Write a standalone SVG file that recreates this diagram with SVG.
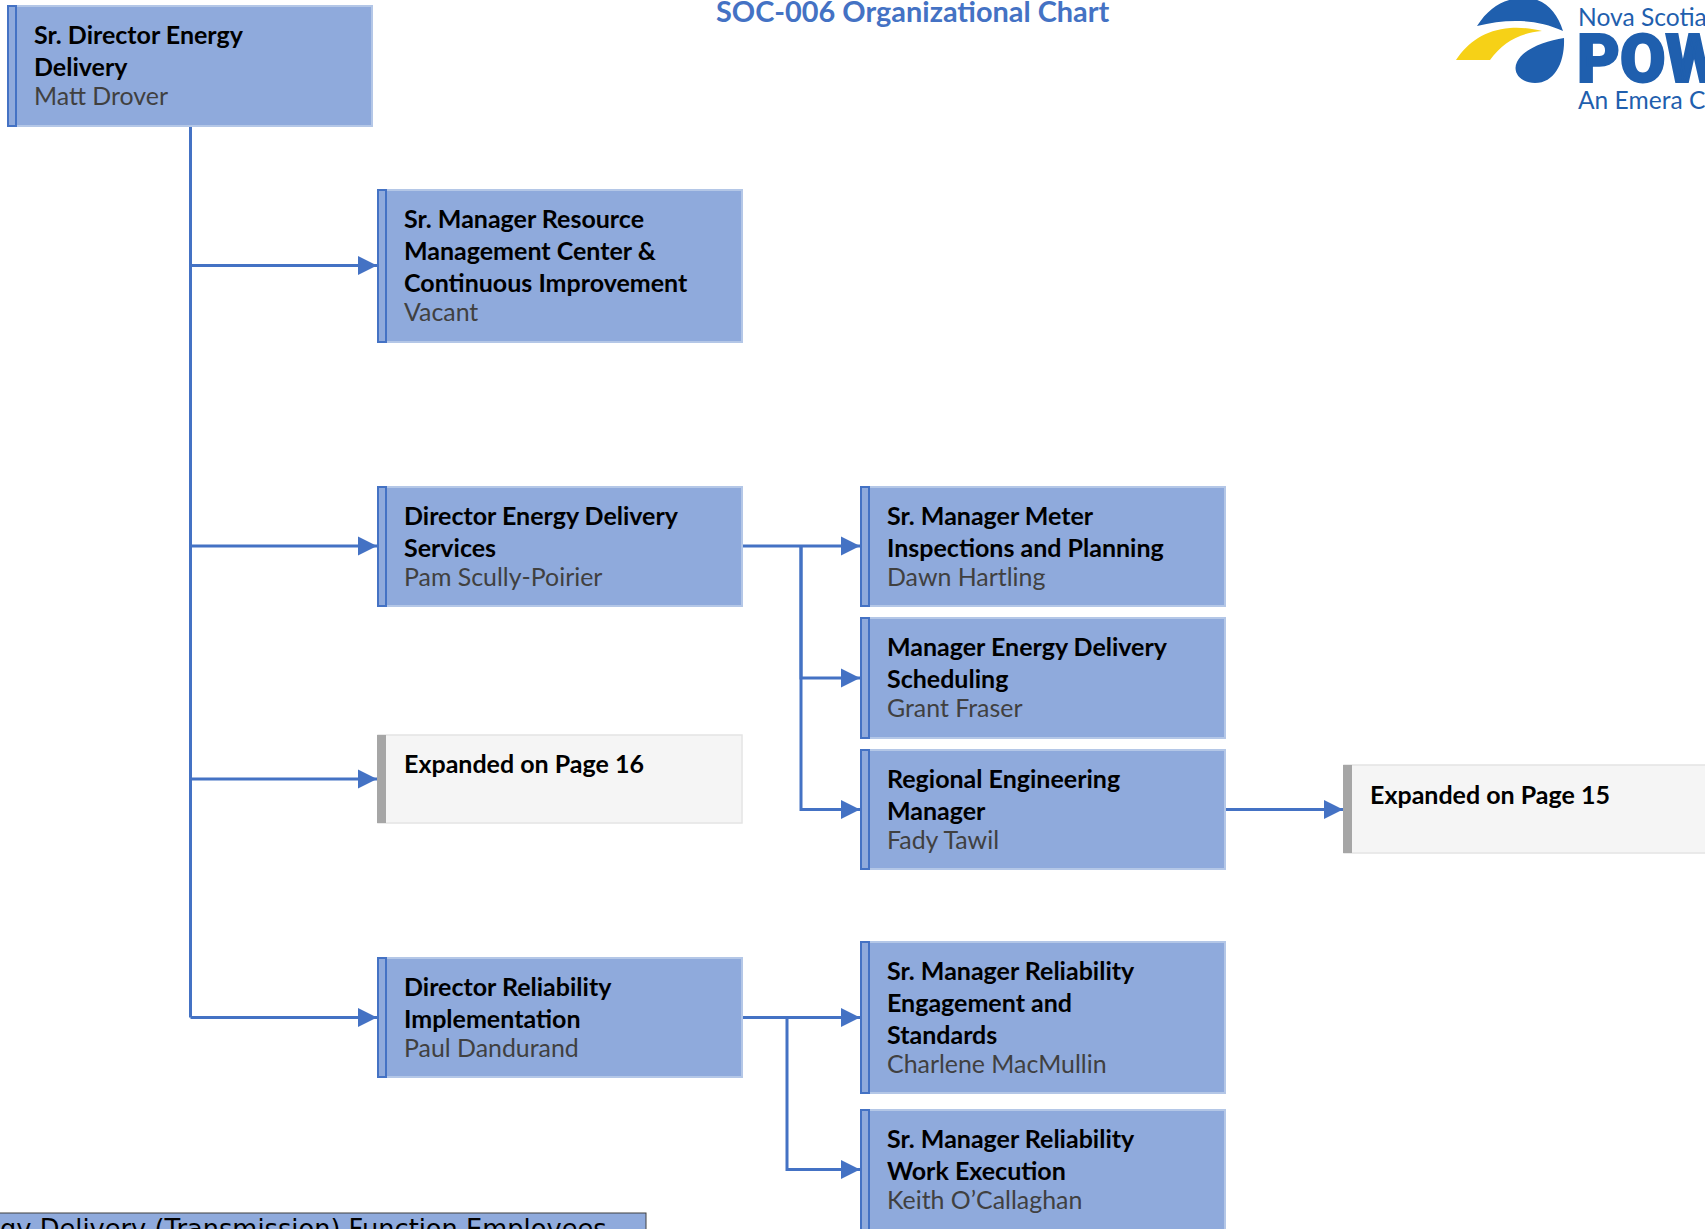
<svg xmlns="http://www.w3.org/2000/svg" width="1705" height="1229" viewBox="0 0 1705 1229">
<style>
text{font-family:"Lato","Open Sans","Liberation Sans",sans-serif}
.box{fill:#8faadc;stroke:#b4c7e7;stroke-width:2}
.strip{fill:#8faadc;stroke:#4472c4;stroke-width:2}
.gbox{fill:#f5f5f5;stroke:#e4e4e4;stroke-width:1.5}
.gstrip{fill:#a6a6a6}
.t{font-size:25px;font-weight:700;fill:#000}
.n{font-size:24.900px;fill:#404040}
.c{fill:none;stroke:#4472c4;stroke-width:3}
.title{font-size:28.900px;font-weight:700;fill:#4472c4}
.logo{fill:#1f5fae}
</style>
<defs><marker id="a" markerUnits="userSpaceOnUse" markerWidth="19" markerHeight="20" refX="19" refY="10" orient="auto"><path d="M0 0.500L19 10L0 19.500Z" fill="#4472c4"/></marker></defs>
<g id="connectors">
<path class="c" d="M190.500 126V1017.500"/>
<path class="c" marker-end="url(#a)" d="M190.500 265.500H377"/>
<path class="c" marker-end="url(#a)" d="M190.500 546H377"/>
<path class="c" marker-end="url(#a)" d="M190.500 779H377"/>
<path class="c" marker-end="url(#a)" d="M190.500 1017.500H377"/>
<path class="c" marker-end="url(#a)" d="M743 546H860"/>
<path class="c" marker-end="url(#a)" d="M801 546V678H860"/>
<path class="c" marker-end="url(#a)" d="M801 546V809.500H860"/>
<path class="c" marker-end="url(#a)" d="M743 1017.500H860"/>
<path class="c" marker-end="url(#a)" d="M787 1017.500V1169.500H860"/>
<path class="c" marker-end="url(#a)" d="M1226 809.500H1343"/>
</g>
<text class="title" x="716" y="22">SOC-006 Organizational Chart</text>
<g id="logo">
<path class="logo" d="M1477 26C1490 6 1505 -2 1525 -2C1545 -2 1557 12 1563 31C1535 18 1505 19 1477 26Z"/>
<path d="M1456 60C1468 42 1485 30 1510 28C1522 27 1533 29 1542 31C1520 33 1503 42 1490 60Z" fill="#f6d117"/>
<path class="logo" d="M1564 38C1565 62 1555 83 1535 83C1520 83 1512 72 1517 62C1523 49 1545 41 1564 38Z"/>
<text x="1578" y="26" font-size="24.600" fill="#1f5fae">Nova Scotia</text>
<text x="1577" y="82" font-size="66" font-weight="900" fill="#1f5fae" stroke="#1f5fae" stroke-width="2" style="font-family:Roboto,Lato,sans-serif">POW</text>
<text x="1578" y="109" font-size="24.600" fill="#1f5fae">An Emera C</text>
</g>
<g id="n1"><rect class="box" x="8" y="6" width="364" height="120"/><rect class="strip" x="8" y="6" width="8" height="120"/><text class="t" x="34" y="44">Sr. Director Energy</text><text class="t" x="34" y="76">Delivery</text><text class="n" x="34" y="105">Matt Drover</text></g>
<g id="n2"><rect class="box" x="378" y="190" width="364" height="152"/><rect class="strip" x="378" y="190" width="8" height="152"/><text class="t" x="404" y="228">Sr. Manager Resource</text><text class="t" x="404" y="260">Management Center &amp;</text><text class="t" x="404" y="292">Continuous Improvement</text><text class="n" x="404" y="321">Vacant</text></g>
<g id="n3"><rect class="box" x="378" y="487" width="364" height="119"/><rect class="strip" x="378" y="487" width="8" height="119"/><text class="t" x="404" y="525">Director Energy Delivery</text><text class="t" x="404" y="557">Services</text><text class="n" x="404" y="586">Pam Scully-Poirier</text></g>
<g id="n4"><rect class="gbox" x="378" y="735" width="364" height="88"/><rect class="gstrip" x="377" y="735" width="9" height="88"/><text class="t" x="404" y="773">Expanded on Page 16</text></g>
<g id="n5"><rect class="box" x="378" y="958" width="364" height="119"/><rect class="strip" x="378" y="958" width="8" height="119"/><text class="t" x="404" y="996">Director Reliability</text><text class="t" x="404" y="1028">Implementation</text><text class="n" x="404" y="1057">Paul Dandurand</text></g>
<g id="n6"><rect class="box" x="861" y="487" width="364" height="119"/><rect class="strip" x="861" y="487" width="8" height="119"/><text class="t" x="887" y="525">Sr. Manager Meter</text><text class="t" x="887" y="557">Inspections and Planning</text><text class="n" x="887" y="586">Dawn Hartling</text></g>
<g id="n7"><rect class="box" x="861" y="618" width="364" height="120"/><rect class="strip" x="861" y="618" width="8" height="120"/><text class="t" x="887" y="656">Manager Energy Delivery</text><text class="t" x="887" y="688">Scheduling</text><text class="n" x="887" y="717">Grant Fraser</text></g>
<g id="n8"><rect class="box" x="861" y="750" width="364" height="119"/><rect class="strip" x="861" y="750" width="8" height="119"/><text class="t" x="887" y="788">Regional Engineering</text><text class="t" x="887" y="820">Manager</text><text class="n" x="887" y="849">Fady Tawil</text></g>
<g id="n9"><rect class="gbox" x="1344" y="765" width="370" height="88"/><rect class="gstrip" x="1343" y="765" width="9" height="88"/><text class="t" x="1370" y="804">Expanded on Page 15</text></g>
<g id="n10"><rect class="box" x="861" y="942" width="364" height="151"/><rect class="strip" x="861" y="942" width="8" height="151"/><text class="t" x="887" y="980">Sr. Manager Reliability</text><text class="t" x="887" y="1012">Engagement and</text><text class="t" x="887" y="1044">Standards</text><text class="n" x="887" y="1073">Charlene MacMullin</text></g>
<g id="n11"><rect class="box" x="861" y="1110" width="364" height="130"/><rect class="strip" x="861" y="1110" width="8" height="130"/><text class="t" x="887" y="1148">Sr. Manager Reliability</text><text class="t" x="887" y="1180">Work Execution</text><text class="n" x="887" y="1209">Keith O’Callaghan</text></g>
<g id="legend"><rect x="-5" y="1213" width="651" height="30" fill="#8faadc" stroke="#404040" stroke-width="1"/><text x="0" y="1238" font-size="25.700" fill="#000" style="font-family:'DejaVu Sans',sans-serif">gy Delivery (Transmission) Function Employees</text></g>
</svg>
